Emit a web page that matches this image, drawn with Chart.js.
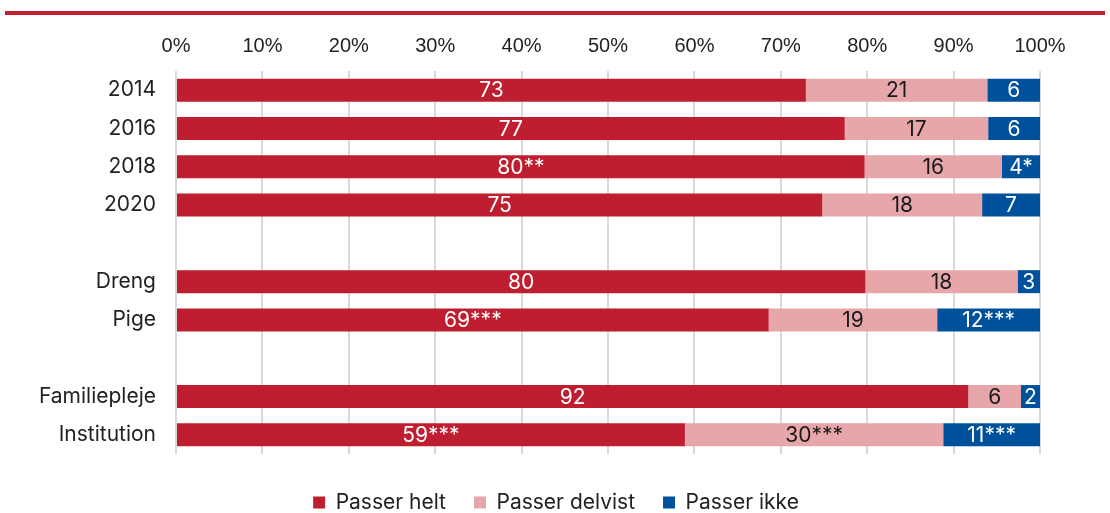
<!DOCTYPE html>
<html>
<head>
<meta charset="utf-8">
<script src="https://cdn.jsdelivr.net/npm/chart.js@4.4.1/dist/chart.umd.min.js"></script>
<style>
  html, body { margin: 0; padding: 0; background: #fff; }
  #wrap { position: relative; width: 1110px; height: 513px; }
  #topline { position: absolute; left: 5px; top: 11px; width: 1100px; height: 4px; background: #be1e2d; }
  canvas { position: absolute; left: 0; top: 0; }
</style>
</head>
<body>
<div id="wrap">
  <canvas id="c" width="1110" height="513"></canvas>
  <div id="topline"></div>
</div>
<script>
const categories = ['2014', '2016', '2018', '2020', '', 'Dreng', 'Pige', '', 'Familiepleje', 'Institution'];
const passerHelt    = [72.9, 77.4, 79.7, 74.8, null, 79.8, 68.6, null, 91.7, 58.9];
const passerDelvist = [21.0, 16.6, 15.9, 18.5, null, 17.6, 19.5, null, 6.1, 29.9];
const passerIkke    = [6.1, 6.0, 4.4, 6.7, null, 2.6, 11.9, null, 2.2, 11.2];
const labelsHelt    = ['73', '77', '80**', '75', '', '80', '69***', '', '92', '59***'];
const labelsDelvist = ['21', '17', '16', '18', '', '18', '19', '', '6', '30***'];
const labelsIkke    = ['6', '6', '4*', '7', '', '3', '12***', '', '2', '11***'];
const xTicks = [0, 10, 20, 30, 40, 50, 60, 70, 80, 90, 100];

const segLabels = [labelsHelt, labelsDelvist, labelsIkke];
const segLabelColors = ['#ffffff', '#1a1a1a', '#ffffff'];

const labelPlugin = {
  id: 'segLabels',
  afterDatasetsDraw(chart) {
    const ctx = chart.ctx;
    ctx.save();
    ctx.font = '21px Inter, "Noto Sans", sans-serif';
    ctx.textAlign = 'center';
    ctx.textBaseline = 'middle';
    chart.data.datasets.forEach((ds, di) => {
      const meta = chart.getDatasetMeta(di);
      meta.data.forEach((el, i) => {
        const txt = segLabels[di][i];
        if (!txt || ds.data[i] == null) return;
        const p = el.getProps(['x', 'y', 'base'], true);
        ctx.fillStyle = segLabelColors[di];
        ctx.fillText(txt, (p.x + p.base) / 2, p.y + 1);
      });
    });
    ctx.restore();
  }
};

const legendShift = {
  id: 'legendShift',
  afterLayout(chart) {
    const lg = chart.legend;
    if (lg) { lg.top += 10; lg.bottom += 10; lg.left += 36; lg.right += 36; }
  }
};

new Chart(document.getElementById('c'), {
  type: 'bar',
  data: {
    labels: categories,
    datasets: [
      { label: 'Passer helt', data: passerHelt, backgroundColor: '#be1e2f' },
      { label: 'Passer delvist', data: passerDelvist, backgroundColor: '#e6a6aa' },
      { label: 'Passer ikke', data: passerIkke, backgroundColor: '#00519c' }
    ]
  },
  options: {
    indexAxis: 'y',
    responsive: false,
    animation: false,
    devicePixelRatio: 1,
    barPercentage: 0.6,
    categoryPercentage: 1.0,
    layout: { padding: { left: 0, right: 70, top: 26, bottom: 0 } },
    plugins: {
      legend: {
        position: 'bottom',
        labels: {
          boxWidth: 12, boxHeight: 12, padding: 28,
          color: '#222',
          font: { family: 'Inter, "Noto Sans", sans-serif', size: 21 }
        }
      },
      tooltip: { enabled: false }
    },
    scales: {
      x: {
        position: 'top',
        stacked: true,
        min: 0, max: 100,
        afterBuildTicks(scale) { scale.ticks = xTicks.map(v => ({ value: v })); },
        afterFit(scale) { scale.height = 45; },
        grid: { color: '#d9d9d9', lineWidth: 2, drawTicks: false },
        border: { display: false },
        ticks: {
          padding: 13,
          color: '#222',
          font: { family: '"Liberation Sans Narrow", "Liberation Sans", sans-serif', size: 20 },
          callback: v => v + '%'
        }
      },
      y: {
        stacked: true,
        afterFit(scale) { scale.width = 176; },
        grid: { display: false, drawTicks: false },
        border: { display: false },
        ticks: {
          padding: 20,
          color: '#222',
          font: { family: 'Inter, "Noto Sans", sans-serif', size: 21 }
        }
      }
    }
  },
  plugins: [labelPlugin, legendShift]
});
</script>
</body>
</html>
